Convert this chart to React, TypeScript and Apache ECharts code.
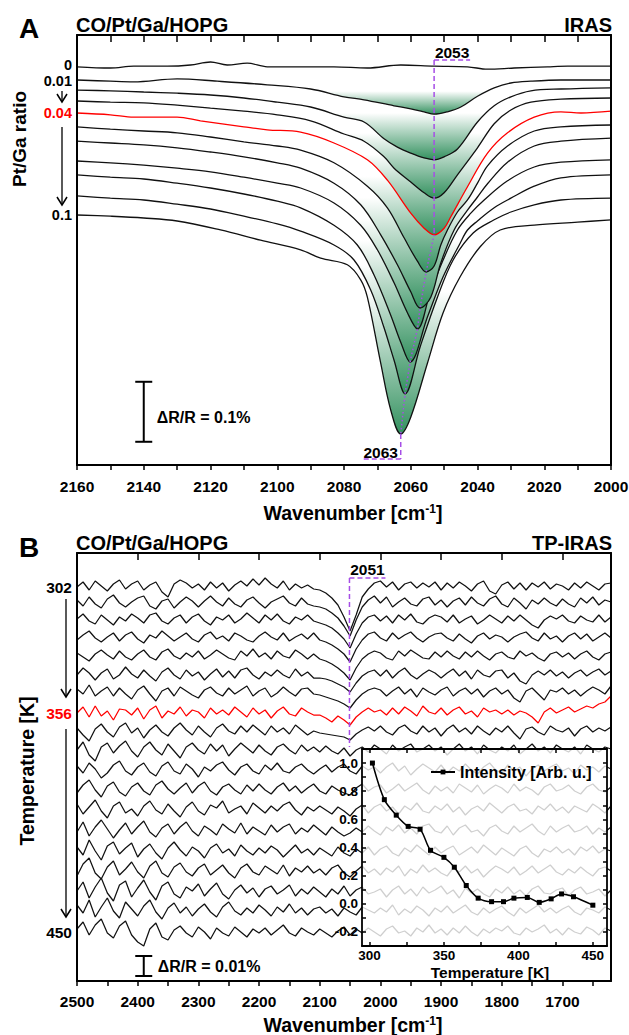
import React, { useEffect, useRef } from 'react';
import * as echarts from 'echarts';

const FONT = '"Liberation Sans", Arial, Helvetica, sans-serif';
const PURPLE = '#a64ee6';
const GREEN = '#33915f';
const RED = '#ff0000';
const INK = '#111111';

// ---------- Panel A: IRAS, CO on Pt/Ga/HOPG, Pt/Ga ratio 0 ... 0.1 ----------
// pairs: [wavenumber cm-1, ΔR/R (units of 0.01 %) incl. vertical offset]
const A_RATIOS = ['0', '0.01', '0.02', '0.03', '0.04', '0.05', '0.06', '0.07', '0.08', '0.09', '0.1'];
const A_SHOWN = [0, 1, 4, 10];
const A_LABEL_NUDGE = [-2, 1.5, 0, 0];
const A_RED = 4;
const A_T0 = [[2160,-5.3],[2150,-5.5],[2143,-5.2],[2133,-5.2],[2126,-5.0],[2120,-4.5],[2115,-5.0],[2109,-4.7],[2103,-5.3],[2093,-5.3],[2083,-5.3],[2073,-5.5],[2063,-5.0],[2053,-5.2],[2043,-5.3],[2037,-5.7],[2029,-5.5],[2019,-5.3],[2013,-5.2],[2000,-5.2]];
const A_T1 = [[2160,-7.5],[2150,-7.7],[2143,-7.8],[2130,-7.3],[2118,-7.7],[2103,-8.3],[2090,-9.0],[2080,-10.3],[2074,-10.8],[2065,-11.8],[2060,-12.3],[2056,-12.8],[2053,-13.2],[2049,-12.8],[2045,-12.0],[2040,-10.2],[2035,-8.8],[2030,-8.0],[2024,-7.7],[2015,-7.5],[2000,-7.5]];
const A_T2 = [[2160,-9.2],[2150,-9.3],[2140,-9.5],[2130,-9.7],[2120,-10.0],[2110,-10.5],[2100,-11.2],[2090,-12.0],[2080,-13.7],[2074,-14.5],[2068,-17.3],[2064,-18.7],[2060,-19.7],[2056,-20.5],[2053,-20.8],[2050,-20.3],[2046,-19.0],[2040,-14.5],[2035,-11.8],[2030,-10.3],[2024,-9.3],[2015,-9.0],[2000,-8.8]];
const A_T3 = [[2160,-11.0],[2150,-11.2],[2140,-11.3],[2130,-11.7],[2120,-12.2],[2110,-12.7],[2100,-13.3],[2090,-14.3],[2080,-16.5],[2074,-17.7],[2068,-20.3],[2065,-22.2],[2060,-24.5],[2056,-26.3],[2053,-27.2],[2050,-26.3],[2046,-23.3],[2040,-18.8],[2035,-14.8],[2030,-12.5],[2024,-11.2],[2015,-10.7],[2000,-10.5]];
const A_T4 = [[2160,-13.0],[2150,-13.3],[2143,-13.7],[2130,-13.7],[2123,-14.3],[2110,-15.3],[2103,-15.8],[2093,-16.2],[2083,-18.0],[2073,-20.8],[2067,-24.2],[2060,-29.7],[2056,-32.2],[2053,-33.3],[2050,-32.2],[2048,-30.3],[2043,-25.3],[2037,-19.7],[2031,-16.3],[2023,-13.7],[2015,-12.8],[2009,-13.0],[2000,-12.7]];
const A_T5 = [[2160,-15.3],[2150,-15.7],[2140,-16.0],[2130,-16.3],[2120,-17.0],[2110,-17.8],[2100,-18.5],[2093,-19.2],[2083,-21.3],[2073,-25.2],[2067,-28.8],[2062,-33.8],[2058,-37.7],[2055.4,-39.5],[2053,-38.5],[2051,-35.0],[2049,-32.5],[2046,-29.5],[2043,-27.5],[2040,-24.7],[2037,-21.8],[2031,-18.5],[2023,-16.0],[2015,-15.3],[2000,-15.0]];
const A_T6 = [[2160,-17.7],[2150,-18.0],[2140,-18.3],[2130,-18.8],[2120,-19.5],[2110,-20.3],[2100,-21.3],[2093,-22.2],[2083,-24.7],[2075,-28.3],[2069,-33.3],[2064,-38.3],[2060,-42.8],[2057.2,-45.5],[2054,-43.7],[2051,-38.0],[2047,-32.5],[2043,-29.2],[2040,-27.0],[2037,-24.8],[2031,-21.2],[2023,-18.5],[2015,-17.7],[2000,-17.2]];
const A_T7 = [[2160,-21.0],[2150,-21.3],[2140,-21.7],[2130,-22.2],[2120,-22.8],[2110,-23.7],[2100,-24.7],[2093,-25.5],[2083,-28.0],[2075,-31.7],[2070,-35.8],[2065,-41.3],[2061,-46.3],[2058,-49.0],[2054.2,-43.0],[2050.3,-37.5],[2046,-32.5],[2042,-29.7],[2038,-27.5],[2031,-24.3],[2023,-22.0],[2015,-21.2],[2000,-20.8]];
const A_T8 = [[2160,-23.3],[2150,-23.7],[2140,-24.0],[2130,-24.7],[2120,-25.5],[2110,-26.5],[2100,-27.7],[2093,-28.8],[2083,-31.7],[2076,-35.0],[2071,-40.0],[2066,-46.7],[2063,-51.2],[2060.2,-54.5],[2055,-47.0],[2050.3,-40.3],[2045.2,-34.7],[2043,-32.5],[2040,-31.0],[2035,-28.8],[2030,-27.2],[2023,-25.2],[2015,-23.8],[2000,-23.3]];
const A_T9 = [[2160,-26.8],[2150,-27.2],[2140,-27.5],[2130,-28.2],[2120,-29.0],[2110,-30.2],[2100,-31.5],[2093,-32.7],[2083,-35.0],[2077,-37.5],[2072,-42.5],[2068,-48.8],[2065,-54.2],[2061.7,-59.8],[2057.2,-52.0],[2052,-43.7],[2047.3,-37.5],[2041.3,-33.0],[2035,-30.8],[2030,-29.5],[2023,-28.3],[2015,-27.5],[2000,-27.2]];
const A_T10 = [[2160,-30.0],[2150,-30.2],[2140,-30.5],[2130,-31.0],[2117,-32.5],[2105,-34.2],[2093,-35.8],[2087,-37.2],[2079,-38.3],[2075,-40.8],[2073,-43.7],[2069,-54.7],[2066,-62.5],[2063,-66.5],[2060,-63.7],[2055,-54.7],[2050.3,-46.3],[2045.2,-40.3],[2039.2,-35.3],[2033.2,-32.5],[2023,-31.7],[2010,-31.2],[2000,-30.8]];
const A_TRACES = [A_T0, A_T1, A_T2, A_T3, A_T4, A_T5, A_T6, A_T7, A_T8, A_T9, A_T10];
const A_Y_MIN = -71.67;
const A_Y_MAX = 0;
const A_SCALEBAR_WN = 2140;
const A_SCALEBAR_TOP = -57.8;
const A_SCALEBAR_LEN = 10; // 0.1 %
const A_PEAK_HI = 2053;
const A_PEAK_LO = 2063;

// ---------- Panel B: TP-IRAS, 302 K ... 450 K ----------
// ΔR/R in units of 0.0005 % ; sampled every 10 cm-1 from 2500 cm-1
const B_WN_START = 2500;
const B_WN_STEP = 10;
const B_RED = 7;
const B_LABEL_ROWS = [0, 7, 18];
const B_LABEL_TEXT = ['302', '356', '450'];
const B_OFFSETS = [-34, -50, -67, -85, -103, -122, -140, -160, -178, -197, -217, -237, -257, -278, -299, -319, -340, -359, -379];
const B_302 = [0,5,-3,6,1,-4,3,7,-2,3, 6,-3,2,5,-5,-10,3,7,4,-1, 3,-3,5,-1,4,-4,2,6,1,8, 2,9,3,-1,6,-3,3,-1,2,-2, -3,-6,-11,-18,-30,-44,-28,-10,-2,4, 6,0,5,-3,3,5,-1,4,0,5, -3,4,-1,5,1,-4,3,6,-4,-7, 2,5,-2,4,-3,4,0,5,-2,3, 1,-3,4,-1,5,1,-3,3,4];
const B_310 = [3,-3,6,-1,-5,4,8,0,-4,1, 5,7,-3,-6,2,4,-5,1,6,2, -4,2,7,1,-3,5,-1,-4,3,6, 0,-5,1,4,7,0,-3,5,-1,-3, -4,-6,-10,-15,-23,-33,-17,-4,3,7, 0,6,-4,1,5,-1,-3,4,6,-2, 3,-4,2,5,-2,6,0,-3,4,7, -1,-4,5,0,-6,3,-1,5,0,-3, 4,-1,-4,5,0,6,-2,3,1];
const B_318 = [1,6,-1,-4,5,0,-5,3,-1,6, 2,-3,5,7,-1,-4,2,5,-3,3, 6,-1,-5,3,0,5,-3,1,7,2, -3,5,0,6,-1,-4,3,0,5,-1, -3,-5,-8,-13,-19,-28,-14,-3,3,5, -1,4,-3,5,0,6,-2,-4,2,5, 3,-2,5,-3,1,4,-4,0,5,1, -3,4,-1,5,0,-5,-8,0,4,1, 5,-1,-3,4,0,-2,5,-2,3];
const B_326 = [-2,3,7,0,-4,1,5,-3,3,6, -1,-5,3,0,7,2,-3,1,5,-1, -4,3,6,-1,2,-3,5,2,-2,-4, 2,6,1,-2,5,-3,1,4,-1,5, -2,-4,-7,-11,-16,-24,-11,-2,4,6, 0,-3,5,-1,3,6,0,-4,1,4, 5,0,-3,4,-1,-5,2,5,-1,3, 1,-4,1,4,6,0,-3,5,-1,2, -4,2,5,-1,4,-3,1,5,0];
const B_334 = [3,-1,-5,2,6,1,-3,5,-1,-4, 2,6,-1,-4,4,7,0,-3,3,-1, 5,-3,1,6,2,-2,-4,5,0,7, -1,3,-3,5,0,-2,6,2,-3,2, -3,-5,-8,-12,-17,-24,-12,-3,2,5, 3,-2,-4,5,0,6,2,-2,-3,4, -1,5,0,-3,4,-1,5,0,-4,2, 4,-1,-3,5,0,3,-2,-5,2,4, -1,3,-3,2,5,-1,-4,2,4];
const B_342 = [0,7,2,-5,2,6,-4,0,8,1, -3,5,-1,-6,3,7,0,-4,5,-1, 3,-5,1,6,-2,4,-3,5,7,0, -4,3,-1,5,0,-3,6,-1,3,-3, -3,-4,-6,-9,-12,-17,-8,-1,3,5, -1,5,-3,3,7,0,-4,1,5,2, -3,2,6,-1,4,-4,5,0,-2,4, 5,-3,2,-6,-9,0,4,0,5,-1, 3,-3,2,5,-1,3,6,0,4];
const B_350 = [4,-1,8,-3,2,6,-3,5,-1,-6, 3,7,-1,-8,2,5,-3,6,2,-2, -5,3,6,0,-3,5,-1,3,7,-3, 2,5,-4,0,6,1,-3,4,5,-1, -2,-4,-6,-8,-11,-15,-7,-1,3,5, 3,-3,2,6,-1,4,-4,5,1,-2, 3,6,-3,2,5,-1,4,-4,2,5, -1,3,-5,-9,2,5,-1,-7,3,1, 5,-1,3,-3,2,6,3,-1,7];
const B_356 = [0,6,-4,7,-3,2,-7,4,3,-2, 5,-6,3,7,-5,2,-1,6,-3,3, 1,-5,5,-1,3,-2,6,1,-4,5, -1,3,-5,2,6,-1,-3,5,1,-2, -2,-5,-9,-3,-7,-12,-4,1,5,1, 3,-2,5,-1,6,2,-3,7,1,-1, 5,-2,3,6,-1,2,-4,5,1,3, -1,3,-2,2,0,-4,-10,1,5,0, 3,6,1,4,7,5,9,11,17];
const B_366 = [3,-4,-10,2,7,-1,-6,4,8,-2, 3,-7,1,6,-1,-5,3,8,1,-4, 5,-1,-6,3,7,0,-3,5,-1,6, 1,-4,5,-1,3,-3,6,1,-4,0, -2,-3,-4,-5,-6,-9,-3,1,4,0, 5,-1,-4,3,6,0,-3,5,-1,3, -5,2,6,-1,3,-3,5,0,-4,3, -1,5,-2,-8,2,4,-1,-4,5,1, -1,3,-5,2,5,-1,3,0,4];
const B_374 = [0,8,-5,-11,3,7,-3,4,9,-1, -7,3,8,0,-5,6,-1,-8,3,7, 0,-4,6,-1,5,-6,1,7,2,-3, 5,-1,-5,3,6,0,-4,5,-1,3, -2,4,-1,-4,2,-6,0,3,-2,5, 1,-4,5,-1,3,6,-2,1,5,-1, 3,-5,1,6,-1,3,-4,5,0,-3, 3,-1,5,-4,1,6,-1,3,-3,5, 1,-2,3,-4,5,1,-2,3,1];
const B_382 = [4,-3,7,1,-8,-3,5,9,-1,-5, 3,7,-2,-6,4,8,-1,-4,6,1, -7,3,-1,5,8,0,-5,3,6,-1, -4,5,0,7,-1,-3,3,6,0,-4, 1,5,-2,3,6,-1,-4,4,0,3, -3,3,7,-1,4,-5,1,6,2,-2, 5,-3,3,-1,6,0,-4,3,7,0, -3,5,-1,3,-6,1,5,-1,3,6, -1,2,-4,5,0,3,-2,4,1];
const B_390 = [-3,5,10,0,-7,4,8,-2,-6,3, 7,-1,-5,5,9,1,-4,2,7,-3, 4,8,-1,-5,3,6,0,-4,5,-1, 6,0,-4,3,7,-1,4,-3,2,6, -1,-4,4,0,-3,-5,2,6,-1,3, 5,-3,1,6,-1,3,7,0,-4,4, -1,3,-3,6,2,-2,5,-4,1,5, 2,-3,6,-1,3,0,-5,3,6,-1, 1,5,-1,-4,3,6,0,-2,3];
const B_397 = [6,-4,3,10,-1,-8,4,8,-3,1, -6,4,9,0,-4,6,-1,-7,3,8, -1,-5,5,2,9,-3,1,4,-4,7, 2,-3,4,-1,5,8,0,-5,3,-1, 4,0,-4,3,-1,-6,1,5,-3,3, 6,-1,3,-4,4,0,7,-1,-3,4, 0,6,-2,3,-5,1,4,-1,7,2, -3,3,6,-1,1,-4,4,0,6,-1, 3,-3,4,1,-2,6,2,-3,4];
const B_406 = [-1,9,-5,4,11,2,-7,1,8,-3, 4,10,-1,-6,3,7,-3,4,9,0, -5,5,1,-4,7,2,-2,8,-3,4, 0,-4,6,-1,4,7,-3,3,-1,6, 1,-4,4,-1,-5,-2,3,-1,5,0, -4,4,0,6,-2,3,-3,5,7,0, -2,5,-4,3,6,-1,1,-5,3,6, 0,-3,5,-1,3,7,0,-4,5,-1, 3,6,-1,1,5,-3,3,-1,4];
const B_414 = [5,-3,12,1,-8,6,10,-2,4,9, -5,3,8,-1,-7,4,10,2,-4,5, 1,-6,4,8,-1,3,-4,7,1,-3, 4,-1,6,2,-5,1,7,-1,3,-3, 4,0,-4,5,-1,-4,3,-1,5,-3, 3,6,-1,-4,4,0,7,2,-3,5, -1,3,6,-3,1,5,-1,7,2,-3, 4,0,-4,3,6,-1,-5,3,0,5, -1,3,-3,5,1,6,-1,3,1];
const B_422 = [-4,8,14,-1,-7,5,11,-3,3,10, 0,-6,6,11,-1,-5,5,9,0,-4, 4,8,-3,2,7,-1,-6,4,8,0, -3,6,2,-2,7,-4,4,0,6,-1, 3,-3,4,7,-1,-5,1,6,-1,3, -3,4,0,6,-4,3,-1,7,0,4, -1,-4,4,0,6,-1,3,-5,1,6, 3,-1,5,-3,1,6,-1,3,7,0, -3,3,-1,5,0,-4,3,5,1];
const B_429 = [2,11,-5,6,15,0,-8,8,12,-4, 5,13,1,-7,7,11,-1,-5,6,2, 9,-3,4,10,-1,-6,3,8,0,5, -4,4,7,-1,3,8,-3,4,-1,6, 1,-4,4,-1,7,-3,3,6,-1,1, 4,-4,3,7,-1,4,-3,6,0,3, 7,-1,3,-5,5,0,4,-1,-4,4, 0,6,-1,3,-3,4,7,0,-1,3, 5,-3,3,6,-1,1,4,-3,3];
const B_437 = [7,-1,12,-5,5,14,1,-6,10,3, -4,6,12,0,-7,4,9,-1,5,-4, 3,8,0,-5,5,10,1,-3,4,-1, 7,2,-4,5,0,8,-1,4,-3,3, 5,-1,3,-4,4,0,-3,5,2,-1, 4,0,7,-3,3,-1,6,2,-4,4, 0,6,-1,3,7,0,-3,4,-1,3, 6,0,-4,4,-1,3,7,0,4,-1, 3,6,0,-3,4,2,-1,5,2];
const B_450 = [3,10,-3,7,13,-1,-6,6,11,-3, -10,-14,3,9,-5,-8,2,6,-1,-5, 5,0,-7,4,-1,-4,5,0,-5,3, -1,4,-3,2,7,-1,-4,4,0,-3, 3,-1,-5,1,5,-3,3,-1,4,0, -4,3,6,-1,1,-4,4,0,7,-1, 3,-3,4,-1,6,0,-4,3,-1,4, 1,6,-1,-3,4,0,3,7,-1,3, -3,4,0,-2,5,2,-3,4,1];
const B_TRACES = [B_302, B_310, B_318, B_326, B_334, B_342, B_350, B_356, B_366, B_374, B_382, B_390, B_397, B_406, B_414, B_422, B_429, B_437, B_450];
const B_Y_MIN = -428;
const B_Y_MAX = 0;
const B_SCALEBAR_WN = 2390;
const B_SCALEBAR_TOP = -403;
const B_SCALEBAR_LEN = 20; // 0.01 %
const B_PEAK = 2051;

// ---------- Inset: integrated intensity vs temperature ----------
const INSET_T = [302, 310, 318, 326, 334, 341, 350, 357, 365, 373, 382, 390, 397, 406, 414, 422, 429, 437, 450];
const INSET_I = [1.0, 0.74, 0.63, 0.55, 0.53, 0.38, 0.33, 0.26, 0.13, 0.04, 0.015, 0.015, 0.04, 0.045, 0.01, 0.035, 0.07, 0.05, -0.01];

const range = (a: number, b: number, s: number) => { const r: number[] = []; for (let v = a; v <= b + 1e-9; v += s) r.push(Math.round(v * 1000) / 1000); return r; };

const lbl = { color: '#000', fontWeight: 'bold' as const, fontFamily: FONT };

function xAx(grid: number, min: number, max: number, pos: string, ticks: number[], tickInside: boolean, tickLen: number, labels: number[] | null, margin = 12) {
  return {
    gridIndex: grid, type: 'value', min, max, inverse: true, position: pos, z: 30,
    axisLine: { show: true, onZero: false, lineStyle: { color: '#000', width: 2 } },
    axisTick: { show: true, inside: tickInside, length: tickLen, customValues: ticks, lineStyle: { color: '#000', width: 1.5 } },
    axisLabel: labels ? { show: true, customValues: labels, margin, fontSize: 15.5, ...lbl, formatter: (v: number) => String(v) } : { show: false },
    splitLine: { show: false },
  };
}
function yAx(grid: number, min: number, max: number, pos: string) {
  return {
    gridIndex: grid, type: 'value', min, max, position: pos, z: 30,
    axisLine: { show: true, onZero: false, lineStyle: { color: '#000', width: 2 } },
    axisTick: { show: false }, axisLabel: { show: false }, splitLine: { show: false },
  };
}

function mainOption() {
  const series: any[] = [];
  for (let i = A_TRACES.length - 1; i >= 0; i--) {
    const data = A_TRACES[i];
    const top = Math.max(...data.map((p) => p[1]));
    const s: any = {
      type: 'line', xAxisIndex: 0, yAxisIndex: 0, data, smooth: 0.35, symbol: 'none', silent: true,
      z: 20 - i,
      lineStyle: { color: i === A_RED ? RED : INK, width: 1.3 },
    };
    if (i > 0) {
      s.areaStyle = {
        origin: top, opacity: 1,
        color: new echarts.graphic.LinearGradient(0, 0, 0, 1, [
          { offset: 0, color: '#ffffff' },
          { offset: 0.35, color: '#ffffff' },
          { offset: 1, color: GREEN },
        ]),
      };
    }
    series.push(s);
  }
  const minima = A_TRACES.slice(A_RED).map((t) => t.reduce((m, p) => (p[1] < m[1] ? p : m)));
  series.push({
    type: 'line', xAxisIndex: 0, yAxisIndex: 0, data: minima, symbol: 'none', silent: true, z: 40,
    lineStyle: { color: PURPLE, width: 1.5, type: [1.5, 2.5] },
  });
  B_TRACES.forEach((tr, i) => {
    series.push({
      type: 'line', xAxisIndex: 2, yAxisIndex: 2, symbol: 'none', silent: true, z: 5,
      data: tr.map((v, k) => [B_WN_START - B_WN_STEP * k, B_OFFSETS[i] + v]),
      lineStyle: { color: i === B_RED ? RED : INK, width: 1.25 },
    });
  });
  return {
    animation: false,
    backgroundColor: '#ffffff',
    grid: [
      { left: 77, top: 35, width: 534, height: 430, outerBoundsMode: 'none' },
      { left: 77, top: 553, width: 534, height: 428, outerBoundsMode: 'none' },
    ],
    xAxis: [
      xAx(0, 2000, 2160, 'bottom', range(2000, 2160, 10), false, 5, range(2000, 2160, 20), 13.5),
      xAx(0, 2000, 2160, 'top', range(2000, 2160, 10), true, 7, null),
      xAx(1, 1620, 2500, 'bottom', range(1650, 2500, 50), false, 5, range(1700, 2500, 100), 12),
      xAx(1, 1620, 2500, 'top', range(1700, 2500, 100), true, 7, null),
    ],
    yAxis: [
      yAx(0, A_Y_MIN, A_Y_MAX, 'left'),
      yAx(0, A_Y_MIN, A_Y_MAX, 'right'),
      yAx(1, B_Y_MIN, B_Y_MAX, 'left'),
      yAx(1, B_Y_MIN, B_Y_MAX, 'right'),
    ],
    series,
  };
}

function txt(text: string, x: number, y: number, size: number, opts: any = {}) {
  return {
    type: 'text', x, y, z: 100, silent: true, rotation: opts.rot || 0,
    style: {
      text, fontSize: size, fontWeight: 'bold', fontFamily: FONT, fill: opts.color || '#000',
      align: opts.align || 'center', verticalAlign: 'middle', rich: opts.rich,
      lineHeight: opts.lh,
    },
  };
}
function seg(x1: number, y1: number, x2: number, y2: number, style: any = {}) {
  return { type: 'line', z: 100, silent: true, shape: { x1, y1, x2, y2 }, style: { stroke: '#000', lineWidth: 1.5, ...style } };
}
function chevron(x: number, y: number) {
  return { type: 'polyline', z: 100, silent: true, shape: { points: [[x - 5, y - 8], [x, y], [x + 5, y - 8]] }, style: { stroke: '#000', lineWidth: 1.5, fill: null } };
}
function wavenumberTitle(x: number, y: number) {
  return txt('{a|Wavenumber [cm}{b|-1}{a|]}', x, y, 19.5, {
    rich: {
      a: { fontSize: 19.5, fontWeight: 'bold', fontFamily: FONT, fill: '#000' },
      b: { fontSize: 12, fontWeight: 'bold', fontFamily: FONT, fill: '#000', verticalAlign: 'top' },
    },
  });
}

function mainGraphics(chart: any) {
  const pA = (x: number, y: number) => chart.convertToPixel({ xAxisIndex: 0, yAxisIndex: 0 }, [x, y]);
  const pB = (x: number, y: number) => chart.convertToPixel({ xAxisIndex: 2, yAxisIndex: 2 }, [x, y]);
  const dash = { stroke: PURPLE, lineWidth: 1.5, lineDash: [5, 3] };
  const els: any[] = [];

  // ---- Panel A ----
  els.push(txt('A', 29, 28, 28));
  els.push(txt('CO/Pt/Ga/HOPG', 76, 25, 20, { align: 'left' }));
  els.push(txt('IRAS', 612, 25, 20, { align: 'right' }));
  els.push(txt('Pt/Ga ratio', 19, 139, 19, { rot: Math.PI / 2 }));
  const ay: Record<number, number> = {};
  A_SHOWN.forEach((i, j) => {
    const [, y] = pA(A_TRACES[i][0][0], A_TRACES[i][0][1]);
    ay[i] = y;
    els.push(txt(A_RATIOS[i], 72, y + A_LABEL_NUDGE[j], 14.5, { align: 'right', color: i === A_RED ? RED : '#000', lh: 13 }));
  });
  const axA = 62;
  els.push(seg(axA, ay[1] + 11, axA, ay[4] - 11, { lineWidth: 1.3 }), chevron(axA, ay[4] - 11));
  els.push(seg(axA, ay[4] + 14, axA, ay[10] - 10, { lineWidth: 1.3 }), chevron(axA, ay[10] - 10));
  const [sx, sy1] = pA(A_SCALEBAR_WN, A_SCALEBAR_TOP);
  const [, sy2] = pA(A_SCALEBAR_WN, A_SCALEBAR_TOP - A_SCALEBAR_LEN);
  els.push(seg(sx, sy1, sx, sy2, { lineWidth: 2 }), seg(sx - 8.5, sy1, sx + 8.5, sy1, { lineWidth: 2 }), seg(sx - 8.5, sy2, sx + 8.5, sy2, { lineWidth: 2 }));
  els.push(txt('ΔR/R = 0.1%', sx + 13, (sy1 + sy2) / 2 + 6, 16, { align: 'left' }));
  const redMin = A_TRACES[A_RED].reduce((m, p) => (p[1] < m[1] ? p : m));
  const [hx, hy] = pA(redMin[0], redMin[1]);
  els.push(seg(hx, 60, hx, hy, dash), seg(hx, 60, hx + 36, 60, dash));
  els.push(txt(String(A_PEAK_HI), hx + 18, 52, 15.5));
  const loMin = A_TRACES[A_TRACES.length - 1].reduce((m, p) => (p[1] < m[1] ? p : m));
  const [lx, ly] = pA(loMin[0], loMin[1]);
  els.push(seg(lx, ly, lx, 459, dash), seg(lx, 459, lx - 39, 459, dash));
  els.push(txt(String(A_PEAK_LO), lx - 20, 452, 15.5));
  els.push(wavenumberTitle(353, 513));

  // ---- Panel B ----
  els.push(txt('B', 29, 547, 28));
  els.push(txt('CO/Pt/Ga/HOPG', 76, 543, 20, { align: 'left' }));
  els.push(txt('TP-IRAS', 612, 543, 20, { align: 'right' }));
  els.push(txt('Temperature [K]', 27, 771, 19.5, { rot: Math.PI / 2 }));
  const by: number[] = [];
  B_LABEL_ROWS.forEach((row, j) => {
    const [, y] = pB(B_WN_START, B_OFFSETS[row]);
    by.push(y);
    els.push(txt(B_LABEL_TEXT[j], 72, y, 15.5, { align: 'right', color: row === B_RED ? RED : '#000' }));
  });
  const axB = 66;
  els.push(seg(axB, by[0] + 12, axB, by[1] - 16, { lineWidth: 1.3 }), chevron(axB, by[1] - 16));
  els.push(seg(axB, by[1] + 16, axB, by[2] - 15, { lineWidth: 1.3 }), chevron(axB, by[2] - 15));
  const [bx, by1] = pB(B_SCALEBAR_WN, B_SCALEBAR_TOP);
  const [, by2] = pB(B_SCALEBAR_WN, B_SCALEBAR_TOP - B_SCALEBAR_LEN);
  els.push(seg(bx, by1, bx, by2, { lineWidth: 2 }), seg(bx - 8.5, by1, bx + 8.5, by1, { lineWidth: 2 }), seg(bx - 8.5, by2, bx + 8.5, by2, { lineWidth: 2 }));
  els.push(txt('ΔR/R = 0.01%', bx + 14, (by1 + by2) / 2, 16, { align: 'left' }));
  const [px] = pB(B_PEAK, 0);
  els.push(seg(px, 578, px, 747, dash), seg(px, 578, px + 36, 578, dash));
  els.push(txt(String(B_PEAK), px + 18, 569, 15.5));
  els.push(wavenumberTitle(353, 1025));
  return els;
}

function insetOption() {
  const tl = { color: '#000', width: 1.5 };
  const al = { show: true, onZero: false, lineStyle: { color: '#000', width: 1.8 } };
  const xT = range(300, 450, 25);
  const yT = range(-0.3, 1.1, 0.1);
  const base = { type: 'value', splitLine: { show: false }, z: 10 };
  return {
    animation: false,
    grid: { left: 32, top: 9, width: 245, height: 197, show: true, backgroundColor: 'rgba(255,255,255,0.8)', borderWidth: 0, outerBoundsMode: 'none' },
    xAxis: [
      { ...base, min: 295, max: 459.5, position: 'bottom', axisLine: al,
        axisTick: { inside: true, length: 4, customValues: xT, lineStyle: tl },
        axisLabel: { customValues: [300, 350, 400, 450], margin: 3, fontSize: 13.5, lineHeight: 12, ...lbl } },
      { ...base, min: 295, max: 459.5, position: 'top', axisLine: al,
        axisTick: { inside: true, length: 4, customValues: xT, lineStyle: tl }, axisLabel: { show: false } },
    ],
    yAxis: [
      { ...base, min: -0.3, max: 1.1, position: 'left', axisLine: al,
        axisTick: { inside: true, length: 4, customValues: yT, lineStyle: tl },
        axisLabel: { customValues: [-0.2, 0, 0.2, 0.4, 0.6, 0.8, 1.0], margin: 4, fontSize: 13.5, ...lbl,
          formatter: (v: number) => v.toFixed(1) } },
      { ...base, min: -0.3, max: 1.1, position: 'right', axisLine: al,
        axisTick: { inside: true, length: 4, customValues: yT, lineStyle: tl }, axisLabel: { show: false } },
    ],
    legend: {
      left: 95, top: 19, itemWidth: 24, itemHeight: 6, itemGap: 5,
      textStyle: { fontSize: 16, ...lbl },
      data: ['Intensity [Arb. u.]'],
    },
    series: [{
      name: 'Intensity [Arb. u.]', type: 'line', smooth: 0.3, symbol: 'rect', symbolSize: 5, silent: true,
      data: INSET_T.map((t, i) => [t, INSET_I[i]]), z: 20,
      lineStyle: { color: '#000', width: 1.5 }, itemStyle: { color: '#000' },
    }],
    graphic: [txt('Temperature [K]', 160, 232, 15.5, { lh: 14 })],
  };
}

export default function App() {
  const mainRef = useRef<HTMLDivElement>(null);
  const insetRef = useRef<HTMLDivElement>(null);
  useEffect(() => {
    const main = echarts.init(mainRef.current!, null, { renderer: 'svg' });
    main.setOption(mainOption() as any);
    main.setOption({ graphic: mainGraphics(main) } as any);
    const inset = echarts.init(insetRef.current!, null, { renderer: 'svg' });
    inset.setOption(insetOption() as any);
    return () => { main.dispose(); inset.dispose(); };
  }, []);
  return (
    <div style={{ position: 'absolute', left: 0, top: 0, width: 629, height: 1035, background: '#fff' }}>
      <div ref={mainRef} style={{ position: 'absolute', left: 0, top: 0, width: 629, height: 1035 }} />
      <div ref={insetRef} style={{ position: 'absolute', left: 330, top: 740, width: 290, height: 245 }} />
    </div>
  );
}
